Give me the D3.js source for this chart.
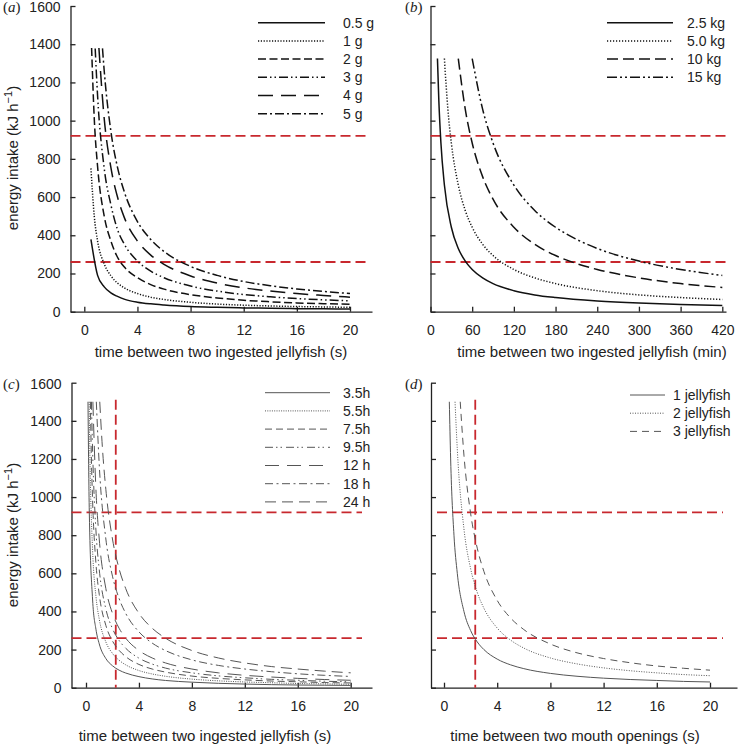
<!DOCTYPE html>
<html lang="en">
<head>
<meta charset="utf-8" />
<script src="https://d3js.org/d3.v7.min.js"></script>
<style>
  body { margin: 0; background: #fff; font-family: 'Liberation Sans', Arial, sans-serif; }
  .axis text { font-size: 14px; fill: #222; font-family: 'Liberation Sans', Arial, sans-serif; }
  .axis path, .axis line { stroke: #222; stroke-width: 1.3; }
  .legend text { font-size: 14px; fill: #222; }
  .title { font-size: 15px; fill: #222; }
  .plabel { font-family: 'Liberation Serif', serif; font-style: italic; font-size: 15px; fill: #222; }
</style>
</head>
<body>
<svg id="chart" width="738" height="744"></svg>
<script>
// ---- data ---------------------------------------------------------------

var yTicks = [0, 200, 400, 600, 800, 1000, 1200, 1400, 1600];
var secTicks = [0, 4, 8, 12, 16, 20];
var minTicks = [0, 60, 120, 180, 240, 300, 360, 420];

// maintenance thresholds (kJ h-1) and the observed interval (s)
var thresholds = [920, 260];
var observedIntervalC = 2.25;
var observedIntervalD = 2.35;

// (a) jellyfish mass, time in s
var namesA = ['0.5 g', '1 g', '2 g', '3 g', '4 g', '5 g'];
var a05 = [[0.5,378],[1,190],[1.5,130],[2,98],[2.5,80],[3,66],[4,50],[5,41],[6,35],[8,27],[10,23],[12,20],[14,18],[16,16],[18,15],[20,14]];
var a1 = [[0.5,750],[0.75,500],[1,370],[1.5,250],[2,188],[2.5,150],[3,125],[4,95],[5,76],[6,64],[8,49],[10,40],[12,34],[14,30],[16,27],[18,25],[20,23]];
var a2 = [[0.55,1380],[0.75,1010],[1,760],[1.5,500],[2,370],[2.5,285],[3,235],[4,178],[5,142],[6,118],[8,89],[10,72],[12,60],[14,52],[16,46],[18,42],[20,39]];
var a3 = [[0.82,1378],[1,1130],[1.5,750],[2,560],[2.5,430],[3,355],[4,265],[5,212],[6,178],[8,134],[10,108],[12,90],[14,78],[16,69],[18,62],[20,57]];
var a4 = [[1.1,1380],[1.5,1010],[2,755],[2.5,600],[3,495],[4,370],[5,296],[6,248],[8,187],[10,150],[12,125],[14,108],[16,95],[18,85],[20,76]];
var a5 = [[1.37,1378],[1.5,1260],[2,945],[2.5,755],[3,630],[4,472],[5,378],[6,315],[8,237],[10,190],[12,158],[14,136],[16,119],[18,106],[20,95]];

// (b) turtle mass, time in min
var namesB = ['2.5 kg', '5.0 kg', '10 kg', '15 kg'];
var b25 = [[10,1325],[12,1104],[15,883],[20,663],[30,442],[40,331],[50,265],[60,221],[75,177],[90,147],[120,110],[150,88],[180,74],[240,56],[300,45],[360,38],[420,33]];
var b50 = [[20,1325],[25,1060],[30,883],[40,663],[50,530],[60,442],[75,353],[90,294],[120,221],[150,177],[180,147],[240,110],[300,88],[360,74],[420,64]];
var b10 = [[40,1325],[50,1060],[60,883],[75,707],[90,589],[120,442],[150,353],[180,294],[210,252],[240,221],[300,177],[360,147],[420,127]];
var b15 = [[60,1325],[75,1060],[90,883],[120,663],[150,530],[180,442],[210,379],[240,331],[300,265],[360,221],[420,190]];

// (c) feeding hours per day, time in s
var namesC = ['3.5h', '5.5h', '7.5h', '9.5h', '12 h', '18 h', '24 h'];
var c35 = [[0.15,1500],[0.25,920],[0.5,460],[0.75,307],[1,230],[1.5,153],[2,115],[2.5,92],[3,77],[4,58],[5,46],[6,38],[8,29],[10,23],[12,19],[14,16],[16,14],[18,13],[20,12]];
var c55 = [[0.24,1500],[0.3,1200],[0.5,720],[0.75,480],[1,360],[1.5,240],[2,180],[2.5,144],[3,120],[4,90],[5,72],[6,60],[8,45],[10,36],[12,30],[14,26],[16,22],[18,20],[20,18]];
var c75 = [[0.33,1500],[0.4,1225],[0.5,980],[0.75,653],[1,490],[1.5,327],[2,245],[2.5,196],[3,163],[4,122],[5,98],[6,82],[8,61],[10,49],[12,41],[14,35],[16,31],[18,27],[20,25]];
var c95 = [[0.41,1500],[0.5,1240],[0.75,827],[1,620],[1.5,413],[2,310],[2.5,248],[3,207],[4,155],[5,124],[6,103],[8,78],[10,62],[12,52],[14,44],[16,39],[18,34],[20,31]];
var c12 = [[0.52,1500],[0.75,1040],[1,780],[1.5,520],[2,390],[2.5,312],[3,260],[4,195],[5,156],[6,130],[8,98],[10,78],[12,65],[14,56],[16,49],[18,43],[20,39]];
var c18 = [[0.78,1500],[1,1170],[1.5,780],[2,585],[2.5,468],[3,390],[4,293],[5,234],[6,195],[8,146],[10,117],[12,98],[14,84],[16,73],[18,65],[20,59]];
var c24 = [[1.04,1500],[1.25,1248],[1.5,1040],[2,780],[2.5,624],[3,520],[4,390],[5,312],[6,260],[8,195],[10,156],[12,130],[14,111],[16,98],[18,87],[20,78]];

// (d) jellyfish per mouth opening, time in s
var namesD = ['1 jellyfish', '2 jellyfish', '3 jellyfish'];
var d1 = [[0.4,1500],[0.5,1200],[0.75,800],[1,600],[1.5,400],[2,300],[2.5,240],[3,200],[4,150],[5,120],[6,100],[8,75],[10,60],[12,50],[14,43],[16,38],[18,33],[20,30]];
var d2 = [[0.83,1500],[1,1250],[1.5,833],[2,625],[2.5,500],[3,417],[4,313],[5,250],[6,208],[8,156],[10,125],[12,104],[14,89],[16,78],[18,69],[20,63]];
var d3s = [[1.22,1500],[1.5,1220],[2,915],[2.5,732],[3,610],[4,458],[5,366],[6,305],[8,229],[10,183],[12,153],[14,131],[16,114],[18,102],[20,92]];

// ---- layout --------------------------------------------------------------

var svg = d3.select('#chart');
var red = '#c8282e';

var panels = [
  { label: 'a', names: namesA, series: [a05, a1, a2, a3, a4, a5],
    dashes: [null, '1.2,1.6', '8,3.5', '9,3,1.5,3,1.5,3', '15,8', '9,3,2,3'],
    ink: '#111', lw: 1.5,
    ax: 70.5, axEnd: 372, ay: 311.7, ayTop: 6, x0: 84.3, xLast: 350, lastVal: 20,
    ticks: secTicks, yLabels: true, yTitleY: 158,
    xTitle: 'time between two ingested jellyfish (s)', xTitleX: 221, xTitleY: 357,
    legend: { x1: 258, x2: 325, tx: 343, y: 22.7 }, lab: [3, 12],
    redH: [70.5, 370], redV: null },
  { label: 'b', names: namesB, series: [b25, b50, b10, b15],
    dashes: [null, '1.2,1.8', '11,5', '10,3,2,3,2,3'],
    ink: '#111', lw: 1.5,
    ax: 430.5, axEnd: 726, ay: 311.7, ayTop: 6, x0: 430.5, xLast: 722.3, lastVal: 420,
    ticks: minTicks, yLabels: false,
    xTitle: 'time between two ingested jellyfish (min)', xTitleX: 592, xTitleY: 357,
    legend: { x1: 607, x2: 673, tx: 687, y: 22.7 }, lab: [405, 12],
    redH: [430.5, 727], redV: null },
  { label: 'c', names: namesC, series: [c35, c55, c75, c95, c12, c18, c24],
    dashes: [null, '1,1.3', '7,4', '8,3,1.5,3,1.5,4', '14,8', '8,3.5,2,3.5', '11,6'],
    ink: '#555', lw: 1,
    ax: 71.5, axEnd: 372, ay: 687.7, ayTop: 382.7, x0: 86, xLast: 350.7, lastVal: 20,
    ticks: secTicks, yLabels: true, yTitleY: 535,
    xTitle: 'time between two ingested jellyfish (s)', xTitleX: 205, xTitleY: 741,
    legend: { x1: 265, x2: 330, tx: 343, y: 392.7 }, lab: [3, 389],
    redH: [71.5, 362], redV: observedIntervalC },
  { label: 'd', names: namesD, series: [d1, d2, d3s],
    dashes: [null, '1,1.5', '7,5'],
    ink: '#555', lw: 1,
    ax: 431, axEnd: 737, ay: 687.7, ayTop: 382.7, x0: 444, xLast: 710, lastVal: 20,
    ticks: secTicks, yLabels: false,
    xTitle: 'time between two mouth openings (s)', xTitleX: 575, xTitleY: 741,
    legend: { x1: 630, x2: 665, tx: 673, y: 395 }, lab: [405, 389],
    redH: [437, 723], redV: observedIntervalD }
];

function DrawPanel(p) {
  var g = svg.append('g');

  // x scale: the tick positions fix the scale, the axis line runs a bit beyond
  var x = d3.scaleLinear().domain([0, p.lastVal]).range([p.x0, p.xLast]);
  x.domain([x.invert(p.ax), x.invert(p.axEnd)]).range([p.ax, p.axEnd]);
  var y = d3.scaleLinear().domain([0, 1600]).range([p.ay, p.ayTop]);

  g.append('g')
    .attr('class', 'axis')
    .attr('transform', 'translate(0,' + p.ay + ')')
    .call(d3.axisBottom(x).tickValues(p.ticks).tickFormat(d3.format('d'))
      .tickSize(-5).tickSizeOuter(0).tickPadding(13));

  var yAxis = d3.axisLeft(y).tickValues(yTicks).tickFormat(d3.format('d'))
    .tickSize(-5).tickSizeOuter(0).tickPadding(10);
  if (!p.yLabels) yAxis.tickFormat('');
  var ya = g.append('g')
    .attr('class', 'axis')
    .attr('transform', 'translate(' + p.ax + ',0)')
    .call(yAxis);
  // keep the top label inside the page
  ya.selectAll('text').filter(function (d) { return d === 1600; }).attr('dy', '0.42em');

  // red threshold lines
  thresholds.forEach(function (v) {
    g.append('line')
      .attr('x1', p.redH[0]).attr('x2', p.redH[1])
      .attr('y1', y(v)).attr('y2', y(v))
      .attr('stroke', red).attr('stroke-width', 1.8)
      .attr('stroke-dasharray', '10,5');
  });
  if (p.redV !== null) {
    g.append('line')
      .attr('x1', x(p.redV)).attr('x2', x(p.redV))
      .attr('y1', y(1510)).attr('y2', y(0))
      .attr('stroke', red).attr('stroke-width', 1.8)
      .attr('stroke-dasharray', '10,5');
  }

  // curves
  var line = d3.line()
    .x(function (d) { return x(d[0]); })
    .y(function (d) { return y(d[1]); })
    .curve(d3.curveMonotoneX);

  g.selectAll('path.curve')
    .data(p.series)
    .enter()
    .append('path')
    .attr('class', 'curve')
    .attr('d', line)
    .attr('fill', 'none')
    .attr('stroke', p.ink)
    .attr('stroke-width', p.lw)
    .attr('stroke-dasharray', function (d, i) { return p.dashes[i]; });

  // legend
  var leg = g.append('g').attr('class', 'legend');
  p.names.forEach(function (name, i) {
    var ly = p.legend.y + i * 18.2;
    leg.append('line')
      .attr('x1', p.legend.x1).attr('x2', p.legend.x2)
      .attr('y1', ly).attr('y2', ly)
      .attr('stroke', p.ink).attr('stroke-width', p.lw)
      .attr('stroke-dasharray', p.dashes[i]);
    leg.append('text')
      .attr('x', p.legend.tx).attr('y', ly).attr('dy', '0.35em')
      .text(name);
  });

  // titles
  g.append('text')
    .attr('class', 'title')
    .attr('x', p.xTitleX).attr('y', p.xTitleY)
    .attr('text-anchor', 'middle')
    .text(p.xTitle);

  if (p.yLabels) {
    var t = g.append('text')
      .attr('class', 'title')
      .attr('transform', 'translate(18,' + p.yTitleY + ') rotate(-90)')
      .attr('text-anchor', 'middle');
    t.append('tspan').text('energy intake (kJ h');
    t.append('tspan').attr('dy', -6).attr('font-size', 11).text('\u22121');
    t.append('tspan').attr('dy', 6).text(')');
  }

  var pl = g.append('text').attr('class', 'plabel')
    .attr('x', p.lab[0]).attr('y', p.lab[1]);
  pl.append('tspan').attr('font-style', 'normal').text('(');
  pl.append('tspan').text(p.label);
  pl.append('tspan').attr('font-style', 'normal').text(')');
}

panels.forEach(DrawPanel);
</script>
</body>
</html>
